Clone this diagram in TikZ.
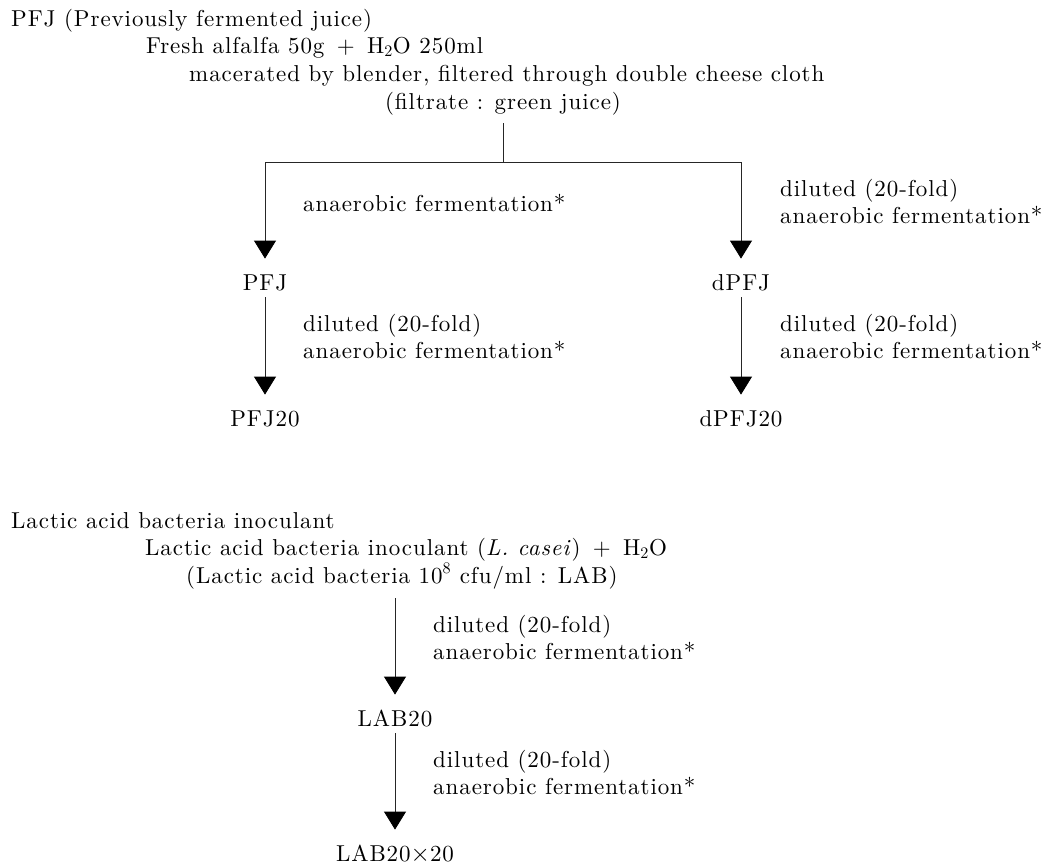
\documentclass[tikz,border=0pt]{standalone}
\usepackage{fontspec}
\setmainfont{lmroman10-regular.otf}[ItalicFont=lmroman10-italic.otf, LetterSpace=4]
\usetikzlibrary{arrows.meta}
\begin{document}
\begin{tikzpicture}[x=1pt,y=-1pt,
  every node/.style={font=\fontsize{23pt}{27pt}\selectfont, inner sep=0pt},
  txt/.style={anchor=base west},
  ctxt/.style={anchor=base},
  flownode/.style={text height=16pt, text depth=0pt, anchor=south},
  conn/.style={line width=0.8pt, draw=black!85},
  arr/.style={conn, -{Triangle[width=22pt,length=18pt,color=black]}, shorten >=16pt, shorten <=6pt},
  lbl/.style={anchor=base west}
]
\useasboundingbox (0,0) rectangle (1043,865);
% ---- PFJ section ----
\node[txt] (t1) at (11,26) {PFJ (Previously fermented juice)};
\node[txt] (t2) at (146,53) {Fresh alfalfa 50g \,+\, H\textsubscript{2}O 250ml};
\node[txt] (t3) at (189,81) {macerated by blender, filtered through double cheese cloth};
\node[ctxt] (t4) at (503,109) {(filtrate : green juice)};
\coordinate (t4b) at (503,123);
\coordinate (split) at (503,162);
\coordinate (bl) at (265,162);
\coordinate (br) at (741,162);
\node[flownode] (pfj) at (265,291) {PFJ};
\node[flownode] (pfj20) at (265,427) {PFJ20};
\node[flownode] (dpfj) at (741,291) {dPFJ};
\node[flownode] (dpfj20) at (741,427) {dPFJ20};
\draw[conn] (t4b) -- (split);
\draw[conn] (bl) -- (br);
\draw[arr, shorten <=0pt] (bl) -- (pfj);
\draw[arr, shorten <=0pt] (br) -- (dpfj);
\draw[arr] (pfj) -- (pfj20);
\draw[arr] (dpfj) -- (dpfj20);
\node[lbl] (la1) at (303,211) {anaerobic fermentation*};
\node[lbl] (ra1) at (780,196) {diluted (20-fold)};
\node[lbl] (ra2) at (780,223) {anaerobic fermentation*};
\node[lbl] (lb1) at (303,331) {diluted (20-fold)};
\node[lbl] (lb2) at (303,358) {anaerobic fermentation*};
\node[lbl] (rb1) at (780,331) {diluted (20-fold)};
\node[lbl] (rb2) at (780,358) {anaerobic fermentation*};
% ---- LAB section ----
\node[txt] (l1) at (11,528) {Lactic acid bacteria inoculant};
\node[txt] (l2) at (145,555) {Lactic acid bacteria inoculant (\textit{L. casei}) \,+\, H\textsubscript{2}O};
\node[txt] (l3) at (186,583) {(Lactic acid bacteria 10\textsuperscript{8} cfu/ml : LAB)};
\coordinate (labtop) at (395,598);
\node[flownode] (lab20) at (395,727) {LAB20};
\node[flownode] (lab2020) at (395,862) {LAB20$\times$20};
\draw[arr, shorten <=0pt] (labtop) -- (lab20);
\draw[arr] (lab20) -- (lab2020);
\node[lbl] (lc1) at (433,632) {diluted (20-fold)};
\node[lbl] (lc2) at (433,659) {anaerobic fermentation*};
\node[lbl] (ld1) at (433,767) {diluted (20-fold)};
\node[lbl] (ld2) at (433,794) {anaerobic fermentation*};
\end{tikzpicture}
\end{document}
